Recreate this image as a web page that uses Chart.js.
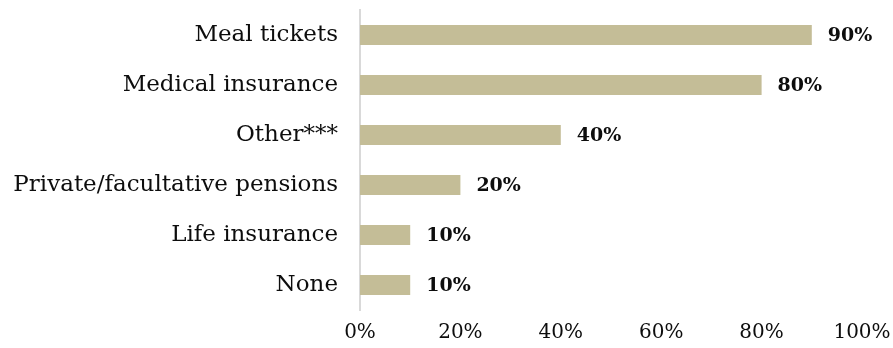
<!DOCTYPE html>
<html>
<head>
<meta charset="utf-8">
<script src="https://cdn.jsdelivr.net/npm/chart.js@4/dist/chart.umd.min.js"></script>
<style>
  html, body { margin: 0; padding: 0; background: #fff; }
  #wrap { width: 893px; height: 348px; }
</style>
</head>
<body>
<div id="wrap"><canvas id="myChart" width="893" height="348"></canvas></div>
<script>
const categories = ["Meal tickets", "Medical insurance", "Other***", "Private/facultative pensions", "Life insurance", "None"];
const shares = [90, 80, 40, 20, 10, 10];
const tickValues = [0, 20, 40, 60, 80, 100];

const serif = "'DejaVu Serif', 'Liberation Serif', serif";

// value labels drawn just past the end of each bar
const barLabels = {
    id: "barLabels",
    afterDatasetsDraw(chart) {
        const ctx = chart.ctx;
        const meta = chart.getDatasetMeta(0);
        ctx.save();
        ctx.font = "bold 19px " + serif;
        ctx.fillStyle = "#0d0d0d";
        ctx.textAlign = "left";
        ctx.textBaseline = "middle";
        meta.data.forEach((bar, i) => {
            ctx.fillText(shares[i] + "%", bar.x + 16, bar.y + 1);
        });
        ctx.restore();
    }
};

let ctx = document.getElementById("myChart").getContext("2d");
let myChart = new Chart(ctx, {
    type: "bar",
    data: {
        labels: categories,
        datasets: [{
            data: shares,
            backgroundColor: "#c4bd97",
            barPercentage: 0.8,
            categoryPercentage: 0.5
        }]
    },
    options: {
        indexAxis: "y",
        responsive: false,
        animation: false,
        layout: { padding: { top: 10, right: 31, bottom: 0, left: 0 } },
        plugins: { legend: { display: false }, tooltip: { enabled: false } },
        scales: {
            x: {
                min: 0,
                max: 100,
                afterBuildTicks: scale => { scale.ticks = tickValues.map(v => ({ value: v })); },
                grid: { display: false, drawTicks: false },
                border: { display: false },
                ticks: {
                    padding: 11,
                    color: "#0d0d0d",
                    font: { family: serif, size: 20 },
                    callback: v => v + "%"
                },
                afterFit: scale => {
                    scale.height = 38;
                    scale.paddingLeft = 0;
                    scale.paddingRight = 0;
                }
            },
            y: {
                grid: { display: false, drawTicks: false },
                border: { display: true, color: "#d9d9d9", width: 2 },
                ticks: {
                    padding: 22,
                    color: "#0d0d0d",
                    font: { family: serif, size: 23 }
                },
                afterFit: scale => {
                    scale.width = 360;
                    scale.paddingTop = 0;
                    scale.paddingBottom = 0;
                }
            }
        }
    },
    plugins: [barLabels]
});
</script>
</body>
</html>
